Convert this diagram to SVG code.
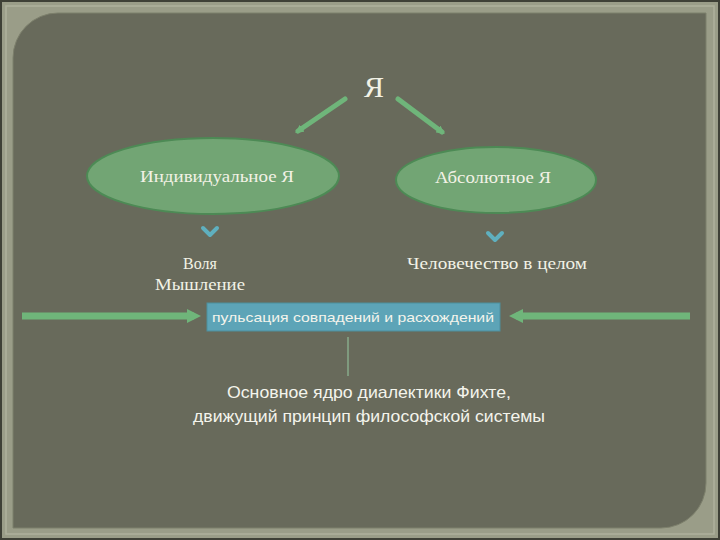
<svg xmlns="http://www.w3.org/2000/svg" width="720" height="540" viewBox="0 0 720 540">
<defs>
<style>
.serif{font-family:"Liberation Serif","DejaVu Serif",serif;fill:#f2f2e6;}
.sans{font-family:"Liberation Sans","DejaVu Sans",sans-serif;fill:#f4f4ec;}
.ell{fill:#72a574;stroke:#4d8a55;stroke-width:2;}
.chev{fill:none;stroke:#5fb0bf;stroke-width:4;stroke-linecap:round;stroke-linejoin:round;}
.diag{stroke:#6fb57a;stroke-width:5;stroke-linecap:round;}
.bar{stroke:#6fb57a;stroke-width:7;}
</style>
<marker id="ah" viewBox="0 0 10 10" refX="5" refY="5" markerWidth="2" markerHeight="2" orient="auto" markerUnits="strokeWidth">
<path d="M0,0 L10,5 L0,10 Z" fill="#6fb57a"/>
</marker>
<marker id="ah2" viewBox="0 0 10 10" refX="6" refY="5" markerWidth="1.7" markerHeight="1.7" orient="auto" markerUnits="strokeWidth">
<path d="M0,0 L10,5 L0,10 Z" fill="#6fb57a"/>
</marker>
</defs>
<rect x="0" y="0" width="720" height="540" fill="#9a9d88"/>
<rect x="1" y="1" width="718" height="538" fill="none" stroke="#3e4036" stroke-width="2"/>
<rect x="6" y="6" width="708" height="528" fill="none" stroke="#aeb19c" stroke-width="1.5"/>
<path d="M13,58 A45,45 0 0 1 58,13 H706 V483 A45,45 0 0 1 661,528 H13 Z" fill="#686a5b" stroke="#7d806c" stroke-width="1"/>

<g id="connectors">
<line class="diag" x1="345" y1="99" x2="298" y2="131" marker-end="url(#ah2)"/>
<line class="diag" x1="398" y1="99" x2="442" y2="132" marker-end="url(#ah2)"/>
<line class="bar" x1="22" y1="316" x2="194" y2="316" marker-end="url(#ah)"/>
<line class="bar" x1="690" y1="316" x2="516" y2="316" marker-end="url(#ah)"/>
<line x1="348" y1="337" x2="348" y2="376" stroke="#7f9a7e" stroke-width="2"/>
<path class="chev" d="M203,228 L210,235 L217,228"/>
<path class="chev" d="M488,233 L495,240 L502,233"/>
</g>

<g id="node-ya">
<text class="serif" x="374" y="97" font-size="30" text-anchor="middle" fill="#ffffff">Я</text>
</g>
<g id="node-individual">
<ellipse class="ell" cx="213" cy="176" rx="126" ry="38"/>
<text class="serif" x="217" y="182" font-size="16" text-anchor="middle" textLength="154" lengthAdjust="spacingAndGlyphs">Индивидуальное Я</text>
</g>
<g id="node-absolute">
<ellipse class="ell" cx="496" cy="180" rx="100" ry="33"/>
<text class="serif" x="493" y="183" font-size="16" text-anchor="middle" textLength="116" lengthAdjust="spacingAndGlyphs">Абсолютное Я</text>
</g>
<g id="node-volya">
<text class="serif" x="200" y="269" font-size="16" text-anchor="middle">Воля</text>
<text class="serif" x="200" y="290" font-size="16" text-anchor="middle" textLength="90" lengthAdjust="spacingAndGlyphs">Мышление</text>
</g>
<g id="node-humanity">
<text class="serif" x="497" y="269" font-size="16" text-anchor="middle" textLength="180" lengthAdjust="spacingAndGlyphs">Человечество в целом</text>
</g>
<g id="node-pulse">
<rect x="207" y="303" width="293" height="28" fill="#5da4b7" stroke="#4d8f9e" stroke-width="1"/>
<text class="sans" x="353" y="322" font-size="13.5" text-anchor="middle" textLength="282" lengthAdjust="spacingAndGlyphs">пульсация совпадений и расхождений</text>
</g>
<g id="node-core">
<text class="sans" x="369" y="398" font-size="17" text-anchor="middle" textLength="284" lengthAdjust="spacingAndGlyphs">Основное ядро диалектики Фихте,</text>
<text class="sans" x="369" y="422" font-size="17" text-anchor="middle" textLength="352" lengthAdjust="spacingAndGlyphs">движущий принцип философской системы</text>
</g>
</svg>
